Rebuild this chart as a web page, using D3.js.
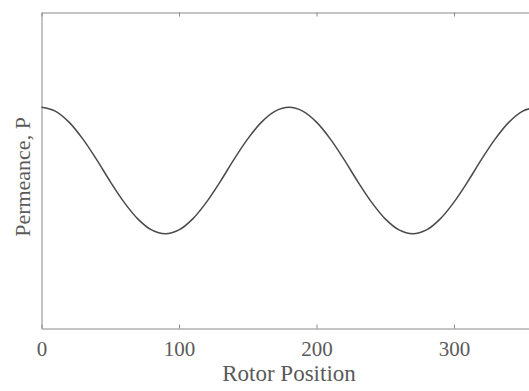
<!DOCTYPE html>
<html>
<head>
<meta charset="utf-8">
<script src="https://cdn.jsdelivr.net/npm/d3@7"></script>
<style>
  html, body { margin: 0; padding: 0; background: #fff; }
  svg { display: block; }
</style>
</head>
<body>
<svg id="chart" width="529" height="391"></svg>
<script>
// Rotor position in degrees, sampled every 10 degrees
const rotorPosition = [0, 10, 20, 30, 40, 50, 60, 70, 80, 90, 100, 110, 120, 130, 140, 150, 160, 170, 180,
                       190, 200, 210, 220, 230, 240, 250, 260, 270, 280, 290, 300, 310, 320, 330, 340, 350, 360];
// Permeance (normalised)
const permeance = [0.700, 0.688, 0.653, 0.600, 0.535, 0.465, 0.400, 0.347, 0.312, 0.300, 0.312, 0.347, 0.400, 0.465, 0.535, 0.600, 0.653, 0.688, 0.700,
                   0.688, 0.653, 0.600, 0.535, 0.465, 0.400, 0.347, 0.312, 0.300, 0.312, 0.347, 0.400, 0.465, 0.535, 0.600, 0.653, 0.688, 0.700];
const xTicks = [0, 100, 200, 300];
const xLabel = "Rotor Position";
const yLabel = "Permeance, P";

const svg = d3.select("#chart");
const plotLeft = 41.5, plotRight = 536.5, plotTop = 12.5, plotBottom = 328.5;

const x = d3.scaleLinear().domain([0, 360]).range([plotLeft, plotRight]);
const y = d3.scaleLinear().domain([0, 1]).range([plotBottom, plotTop]);

const axisColor = "#8a8a8a";
const textColor = "#5a5a5a";
const fontFamily = "'Liberation Serif', 'Times New Roman', serif";

// Bottom axis with inward ticks
const gBottom = svg.append("g").attr("transform", `translate(0,${plotBottom})`)
  .call(d3.axisBottom(x).tickValues(xTicks).tickSizeInner(-4).tickSizeOuter(0).tickPadding(13));
gBottom.select(".domain").attr("stroke", axisColor);
gBottom.selectAll(".tick line").attr("stroke", axisColor);
gBottom.selectAll(".tick text")
  .attr("fill", textColor).attr("font-family", fontFamily).attr("font-size", 21);

// Top axis with inward ticks, no labels
const gTop = svg.append("g").attr("transform", `translate(0,${plotTop})`)
  .call(d3.axisTop(x).tickValues(xTicks).tickSizeInner(-4).tickSizeOuter(0).tickFormat(""));
gTop.select(".domain").attr("stroke", axisColor);
gTop.selectAll(".tick line").attr("stroke", axisColor);

// Left axis, no ticks
const gLeft = svg.append("g").attr("transform", `translate(${plotLeft},0)`)
  .call(d3.axisLeft(y).tickValues([]).tickSizeOuter(0));
gLeft.select(".domain").attr("stroke", axisColor);

// Curve
const data = rotorPosition.map((d, i) => ({ x: d, y: permeance[i] }));
const line = d3.line().x(d => x(d.x)).y(d => y(d.y)).curve(d3.curveCatmullRom.alpha(0.5));
svg.append("path").datum(data)
  .attr("d", line)
  .attr("fill", "none")
  .attr("stroke", "#4a4a4a")
  .attr("stroke-width", 1.5);

// Axis titles
svg.append("text")
  .attr("x", x(180)).attr("y", 381)
  .attr("text-anchor", "middle")
  .attr("fill", textColor).attr("font-family", fontFamily).attr("font-size", 23)
  .text(xLabel);

svg.append("text")
  .attr("transform", `translate(30,177) rotate(-90)`)
  .attr("text-anchor", "middle")
  .attr("fill", textColor).attr("font-family", fontFamily).attr("font-size", 22)
  .text(yLabel);
</script>
</body>
</html>
